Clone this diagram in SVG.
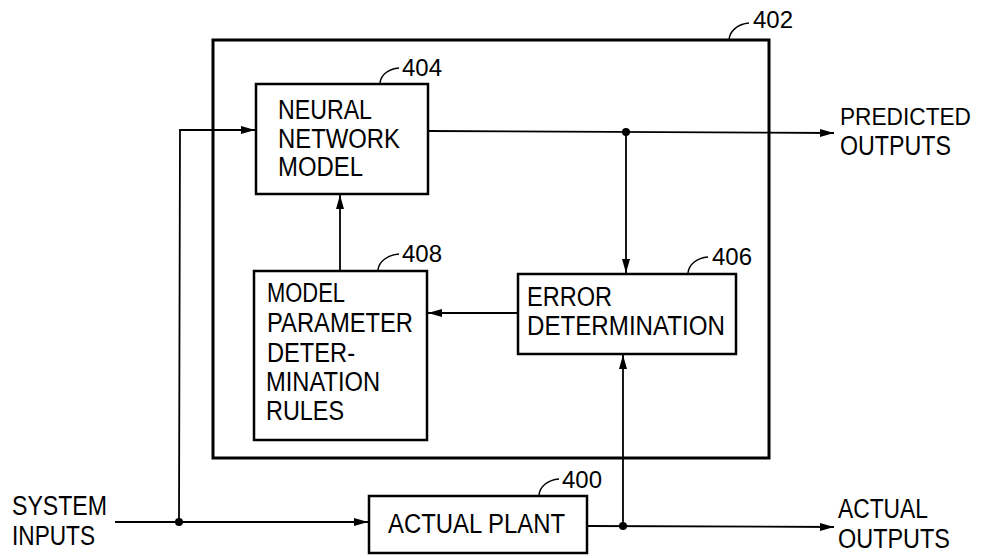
<svg xmlns="http://www.w3.org/2000/svg" width="983" height="558" viewBox="0 0 983 558">
<style>
text{font-family:"Liberation Sans",Arial,sans-serif;font-size:27px;fill:#000;}
.num{font-size:24px;}
.box{fill:none;stroke:#000;stroke-width:2.5;}
.outer{fill:none;stroke:#000;stroke-width:3;}
.ln{fill:none;stroke:#000;stroke-width:1.8;}
.lead{fill:none;stroke:#000;stroke-width:1.5;}
</style>
<defs>
<marker id="ah" markerUnits="userSpaceOnUse" markerWidth="16" markerHeight="10" refX="14" refY="5" orient="auto">
<path d="M0,1 L14,5 L0,9 Z" fill="#000"/>
</marker>
</defs>
<rect width="983" height="558" fill="#fff"/>
<g id="n402">
<rect class="outer" x="213" y="40" width="556" height="418"/>
<path class="lead" d="M729,41 C729,31 738,24 749,23"/>
<text class="num" x="753" y="28" textLength="40" lengthAdjust="spacingAndGlyphs">402</text>
</g>
<g id="n404">
<rect class="box" x="256" y="84" width="172" height="110"/>
<text x="278" y="119" textLength="94" lengthAdjust="spacingAndGlyphs">NEURAL</text>
<text x="278" y="148" textLength="122" lengthAdjust="spacingAndGlyphs">NETWORK</text>
<text x="278" y="176" textLength="85" lengthAdjust="spacingAndGlyphs">MODEL</text>
<path class="lead" d="M380,83 C381,74 389,69 399,68"/>
<text class="num" x="402" y="76" textLength="40" lengthAdjust="spacingAndGlyphs">404</text>
</g>
<g id="n408">
<rect class="box" x="254" y="271" width="173" height="169"/>
<text x="267" y="302" textLength="78" lengthAdjust="spacingAndGlyphs">MODEL</text>
<text x="267" y="332" textLength="146" lengthAdjust="spacingAndGlyphs">PARAMETER</text>
<text x="267" y="362" textLength="88" lengthAdjust="spacingAndGlyphs">DETER-</text>
<text x="266" y="391" textLength="114" lengthAdjust="spacingAndGlyphs">MINATION</text>
<text x="266" y="420" textLength="78" lengthAdjust="spacingAndGlyphs">RULES</text>
<path class="lead" d="M378,270 C379,261 388,255 399,254"/>
<text class="num" x="402" y="262" textLength="40" lengthAdjust="spacingAndGlyphs">408</text>
</g>
<g id="n406">
<rect class="box" x="518" y="274" width="218" height="80"/>
<text x="527" y="306" textLength="85" lengthAdjust="spacingAndGlyphs">ERROR</text>
<text x="527" y="335" textLength="198" lengthAdjust="spacingAndGlyphs">DETERMINATION</text>
<path class="lead" d="M688,273 C689,264 697,258 708,257"/>
<text class="num" x="712" y="265" textLength="40" lengthAdjust="spacingAndGlyphs">406</text>
</g>
<g id="n400">
<rect class="box" x="369" y="496" width="218" height="57"/>
<text x="388" y="533" textLength="177" lengthAdjust="spacingAndGlyphs">ACTUAL PLANT</text>
<path class="lead" d="M539,495 C540,486 548,480 559,479"/>
<text class="num" x="562" y="488" textLength="40" lengthAdjust="spacingAndGlyphs">400</text>
</g>
<g id="labels">
<text x="840" y="125" style="font-size:24.5px" textLength="131" lengthAdjust="spacingAndGlyphs">PREDICTED</text>
<text x="840" y="155" textLength="111" lengthAdjust="spacingAndGlyphs">OUTPUTS</text>
<text x="838" y="518" textLength="90" lengthAdjust="spacingAndGlyphs">ACTUAL</text>
<text x="838" y="548" textLength="112" lengthAdjust="spacingAndGlyphs">OUTPUTS</text>
<text x="12" y="515" textLength="95" lengthAdjust="spacingAndGlyphs">SYSTEM</text>
<text x="12" y="545" textLength="83" lengthAdjust="spacingAndGlyphs">INPUTS</text>
</g>
<g id="connectors">
<path class="ln" d="M115,522 L368,522" marker-end="url(#ah)"/>
<path class="ln" d="M179,522 L180,130 L255,130" marker-end="url(#ah)"/>
<path class="ln" d="M428,131 L834,133" marker-end="url(#ah)"/>
<path class="ln" d="M626,132 L626,273" marker-end="url(#ah)"/>
<path class="ln" d="M587,526 L834,527" marker-end="url(#ah)"/>
<path class="ln" d="M623,526 L623,355" marker-end="url(#ah)"/>
<path class="ln" d="M518,313 L428,313" marker-end="url(#ah)"/>
<path class="ln" d="M340,271 L340,195" marker-end="url(#ah)"/>
<circle cx="626" cy="132" r="4"/>
<circle cx="623" cy="526" r="4"/>
<circle cx="179" cy="522" r="4"/>
</g>
</svg>
